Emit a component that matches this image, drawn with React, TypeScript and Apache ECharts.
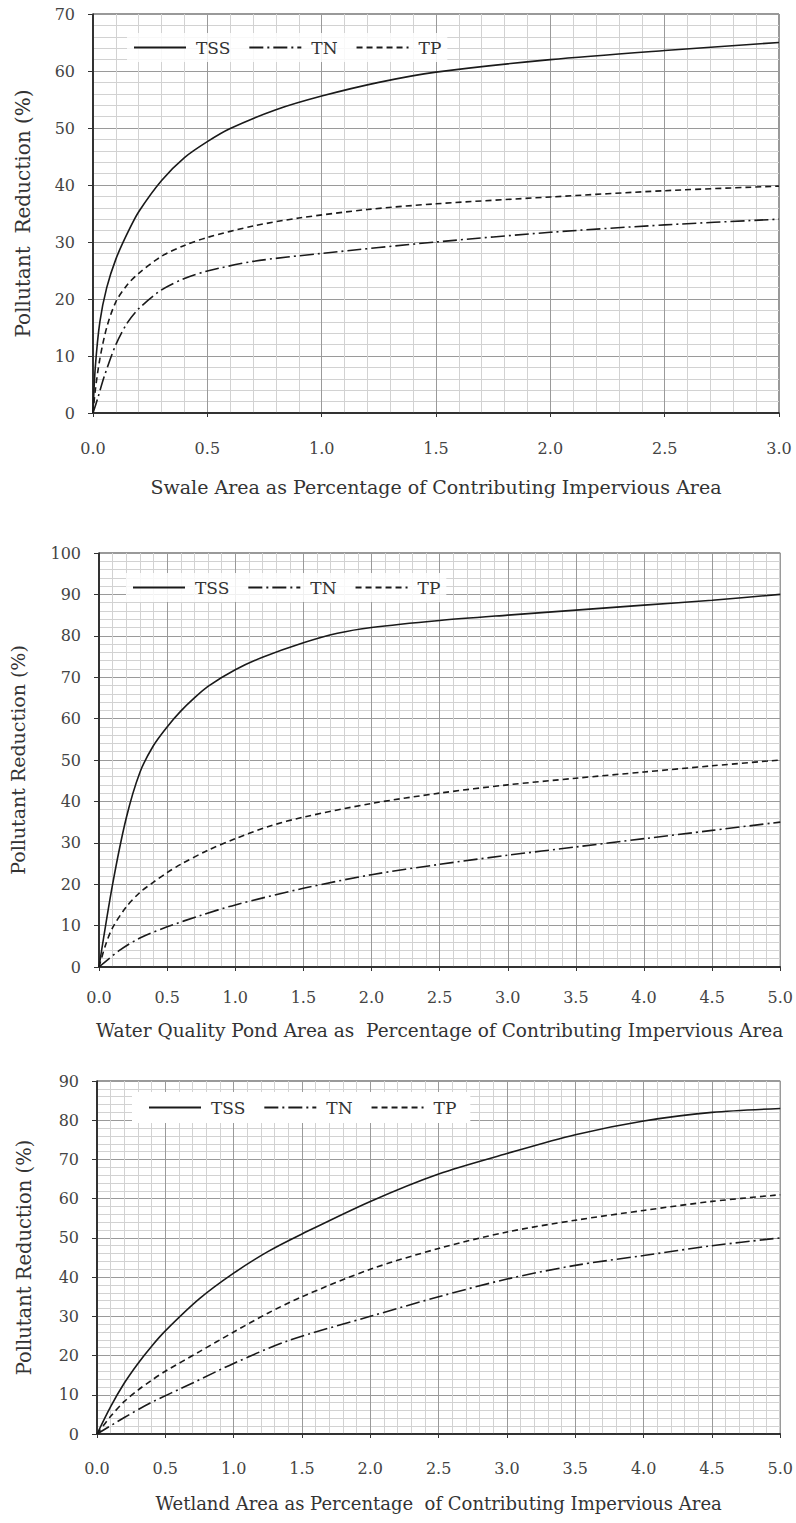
import React, { useEffect, useRef } from "react";
import * as echarts from "echarts";

// ---- Chart 1: Swale ----
const swaleTSS: [number, number][] = [[0, 0], [0.01, 8], [0.03, 16], [0.06, 22], [0.1, 27], [0.15, 31.5], [0.2, 35.3], [0.3, 40.8], [0.4, 44.8], [0.5, 47.6], [0.6, 49.9], [0.8, 53.2], [1.0, 55.6], [1.25, 58], [1.5, 59.8], [2.0, 62], [2.5, 63.6], [3.0, 65]];
const swaleTN: [number, number][] = [[0, 0], [0.02, 2.5], [0.05, 6.5], [0.1, 12], [0.15, 15.8], [0.2, 18.3], [0.3, 21.6], [0.4, 23.6], [0.5, 24.9], [0.7, 26.6], [1.0, 28], [1.5, 30], [2.0, 31.7], [2.5, 33], [3.0, 34]];
const swaleTP: [number, number][] = [[0, 0], [0.01, 4], [0.03, 9.5], [0.06, 15], [0.1, 19.5], [0.15, 22.5], [0.2, 24.5], [0.3, 27.5], [0.4, 29.4], [0.5, 30.8], [0.7, 32.8], [0.9, 34.2], [1.2, 35.7], [1.5, 36.7], [2.0, 37.9], [2.5, 39], [3.0, 39.8]];

// ---- Chart 2: Water quality pond ----
const pondTSS: [number, number][] = [[0, 0], [0.1, 20], [0.2, 36], [0.3, 47], [0.4, 53.5], [0.5, 58], [0.6, 61.8], [0.7, 65], [0.8, 67.8], [1.0, 71.8], [1.2, 74.8], [1.5, 78.3], [1.75, 80.6], [2.0, 82], [2.5, 83.7], [3.0, 85], [3.5, 86.2], [4.0, 87.4], [4.5, 88.6], [5.0, 90]];
const pondTN: [number, number][] = [[0, 0], [0.15, 4], [0.3, 7], [0.5, 9.7], [0.75, 12.5], [1.0, 15], [1.5, 19], [2.0, 22.3], [2.5, 24.8], [3.0, 27], [3.5, 29], [4.0, 31], [4.5, 33], [5.0, 35]];
const pondTP: [number, number][] = [[0, 0], [0.05, 5.5], [0.1, 9.5], [0.2, 14.5], [0.3, 18], [0.4, 20.5], [0.5, 22.8], [0.6, 24.8], [0.8, 28.2], [1.0, 31], [1.25, 34], [1.5, 36.2], [2.0, 39.5], [2.5, 42], [3.0, 44], [3.5, 45.6], [4.0, 47.1], [4.5, 48.6], [5.0, 50]];

// ---- Chart 3: Wetland ----
const wetTSS: [number, number][] = [[0, 0], [0.1, 7], [0.2, 13], [0.3, 18], [0.4, 22.4], [0.5, 26.3], [0.75, 34.5], [1.0, 41], [1.25, 46.5], [1.5, 51], [2.0, 59.3], [2.5, 66.3], [3.0, 71.5], [3.5, 76.3], [4.0, 79.8], [4.5, 82], [5.0, 83]];
const wetTN: [number, number][] = [[0, 0], [0.2, 4.2], [0.39, 7.9], [0.7, 13], [1.0, 18], [1.4, 23.8], [2.0, 30], [2.5, 35], [3.0, 39.5], [3.5, 43], [4.0, 45.5], [4.5, 48], [5.0, 50]];
const wetTP: [number, number][] = [[0, 0], [0.1, 4.5], [0.2, 8.3], [0.3, 11.2], [0.4, 13.7], [0.5, 16], [0.75, 21], [1.0, 26], [1.25, 30.8], [1.5, 35], [2.0, 42], [2.5, 47.3], [3.0, 51.5], [3.5, 54.5], [4.0, 57], [4.5, 59.3], [5.0, 61]];

const seriesNames = ["TSS", "TN", "TP"];
const xTitles = [
  "Swale Area as Percentage of Contributing Impervious Area",
  "Water Quality Pond Area as  Percentage of Contributing Impervious Area",
  "Wetland Area as Percentage  of Contributing Impervious Area",
];
const yTitles = ["Pollutant  Reduction (%)", "Pollutant Reduction (%)", "Pollutant Reduction (%)"];
const xMax = [3, 5, 5];
const yMax = [70, 100, 90];

const FONT = "DejaVu Serif";
const INK = "#1a1a1a";

const grids = [
  { left: 93, top: 14, width: 686, height: 399 },
  { left: 99, top: 553, width: 684, height: 414 },
  { left: 97, top: 1081, width: 686, height: 353 },
];
const xLabelMargin = [27, 22, 26];
const xNameGap = [64, 54, 60];
const xNameSize = [19, 18.5, 18];
const yNameGap = [60, 72, 63];
const yNameSize = [20, 19, 19.5];
const legendPos = [
  { left: 127, top: 33 },
  { left: 126, top: 573 },
  { left: 132, top: 1092 },
];

const lineStyles: any[] = [
  { type: "solid" },
  { type: [14, 4, 2, 4] },
  { type: [6, 4] },
];

export default function App() {
  const ref = useRef<HTMLDivElement>(null);
  useEffect(() => {
    if (!ref.current) return;
    const chart = echarts.init(ref.current, undefined, { renderer: "svg" });
    const allData = [
      [swaleTSS, swaleTN, swaleTP],
      [pondTSS, pondTN, pondTP],
      [wetTSS, wetTN, wetTP],
    ];
    const series: any[] = [];
    allData.forEach((set, gi) => {
      set.forEach((d, si) => {
        series.push({
          name: seriesNames[si],
          type: "line",
          xAxisIndex: gi,
          yAxisIndex: gi,
          data: d,
          smooth: 0.3,
          symbol: "none",
          showSymbol: false,
          lineStyle: { color: INK, width: 1.6, ...lineStyles[si] },
          itemStyle: { color: INK },
          z: 3,
        });
      });
    });
    const option: any = {
      animation: false,
      backgroundColor: "#fff",
      grid: grids.map((g) => ({
        ...g,
        show: true,
        backgroundColor: "#fff",
        borderColor: "#333",
        borderWidth: 1,
        containLabel: false,
      })),
      legend: legendPos.map((p, i) => ({
        ...p,
        data: seriesNames,
        orient: "horizontal",
        itemWidth: 52,
        itemHeight: 12,
        itemGap: 18,
        backgroundColor: i === 2 ? "#fff" : "rgba(255,255,255,0.85)",
        padding: i === 2 ? [7, 14, 7, 16] : [6, 6, 6, 6],
        selectedMode: false,
        itemStyle: { opacity: 0 },
        textStyle: { fontFamily: FONT, fontSize: 17, color: "#333", padding: [0, 0, 0, 5] },
      })),
      xAxis: grids.map((_, i) => ({
        type: "value",
        gridIndex: i,
        min: 0,
        max: xMax[i],
        interval: 0.5,
        name: xTitles[i],
        nameLocation: "middle",
        nameGap: xNameGap[i],
        nameTextStyle: { fontFamily: FONT, fontSize: xNameSize[i], color: "#333" },
        axisLine: { show: true, lineStyle: { color: "#111", width: 1.5 } },
        axisTick: { show: true, length: 4, inside: false, lineStyle: { color: "#333" } },
        axisLabel: {
          margin: xLabelMargin[i],
          fontFamily: FONT,
          fontSize: 16,
          color: "#444",
          formatter: (v: number) => v.toFixed(1),
        },
        splitLine: { show: true, lineStyle: { color: "#9a9a9a", width: 1 } },
        minorTick: { show: false, splitNumber: 5 },
        minorSplitLine: { show: true, lineStyle: { color: "#d2d2d2", width: 1 } },
      })),
      yAxis: grids.map((_, i) => ({
        type: "value",
        gridIndex: i,
        min: 0,
        max: yMax[i],
        interval: 10,
        name: yTitles[i],
        nameLocation: "middle",
        nameGap: yNameGap[i],
        nameTextStyle: { fontFamily: FONT, fontSize: yNameSize[i], color: "#333" },
        axisLine: { show: true, lineStyle: { color: "#111", width: 1.5 } },
        axisTick: { show: true, length: 5, inside: false, lineStyle: { color: "#333" } },
        axisLabel: { margin: 18, fontFamily: FONT, fontSize: 16, color: "#444" },
        splitLine: { show: true, lineStyle: { color: "#9a9a9a", width: 1 } },
        minorTick: { show: false, splitNumber: 5 },
        minorSplitLine: { show: true, lineStyle: { color: "#d2d2d2", width: 1 } },
      })),
      series,
    };
    chart.setOption(option);
    return () => chart.dispose();
  }, []);
  return (
    <div
      ref={ref}
      style={{ position: "absolute", left: 0, top: 0, width: 796, height: 1523, background: "#fff" }}
    />
  );
}
